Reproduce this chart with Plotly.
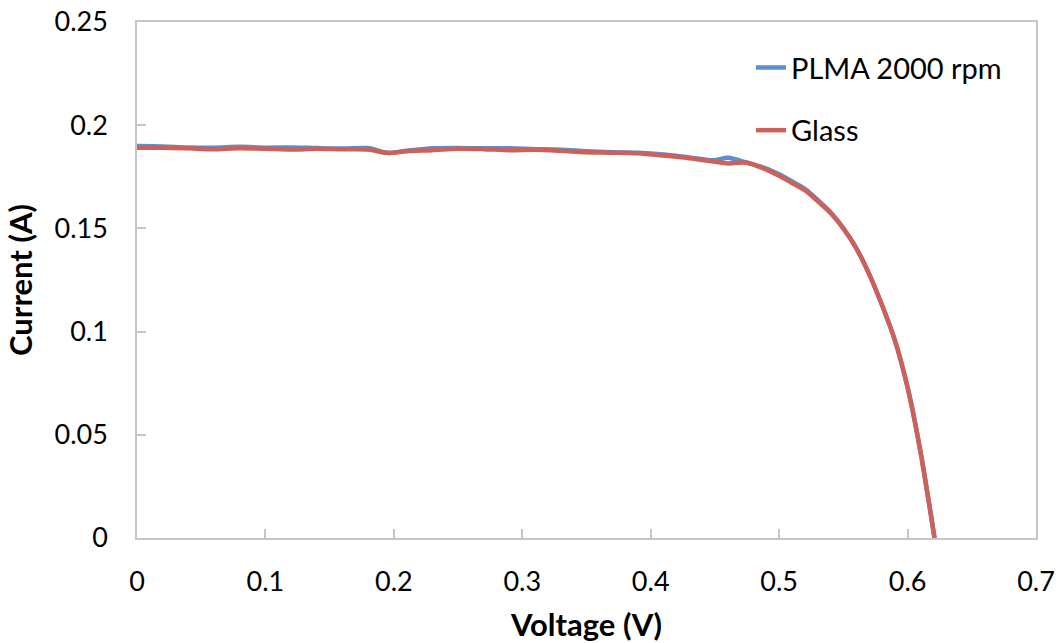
import plotly.graph_objects as go

voltage = [0.000, 0.020, 0.040, 0.060, 0.080, 0.100, 0.120, 0.140, 0.160, 0.180,
           0.195, 0.210, 0.230, 0.250, 0.270, 0.290, 0.310, 0.330, 0.350, 0.370,
           0.390, 0.410, 0.430, 0.450, 0.460, 0.475, 0.490, 0.500, 0.510, 0.520,
           0.530, 0.540, 0.550, 0.560, 0.570, 0.580, 0.590, 0.600, 0.610, 0.621]

current_plma = [0.1899, 0.1897, 0.1892, 0.1891, 0.1895, 0.1891, 0.1892, 0.1889, 0.1887, 0.1889,
                0.1866, 0.1876, 0.1888, 0.1890, 0.1888, 0.1888, 0.1884, 0.1881, 0.1874, 0.1869,
                0.1866, 0.1858, 0.1844, 0.1830, 0.1842, 0.1818, 0.1790, 0.1762, 0.1728, 0.1692,
                0.1638, 0.1578, 0.1500, 0.1405, 0.1280, 0.1130, 0.0960, 0.0730, 0.0420, 0.0000]

current_glass = [0.1891, 0.1891, 0.1888, 0.1884, 0.1888, 0.1886, 0.1882, 0.1886, 0.1883, 0.1882,
                 0.1866, 0.1874, 0.1879, 0.1886, 0.1884, 0.1879, 0.1881, 0.1876, 0.1869, 0.1867,
                 0.1864, 0.1853, 0.1840, 0.1823, 0.1815, 0.1818, 0.1785, 0.1755, 0.1720, 0.1685,
                 0.1632, 0.1575, 0.1500, 0.1405, 0.1280, 0.1130, 0.0960, 0.0730, 0.0420, 0.0000]

series_names = ["PLMA 2000 rpm", "Glass"]
x_ticks = [0, 0.1, 0.2, 0.3, 0.4, 0.5, 0.6, 0.7]
x_tick_labels = ["0", "0.1", "0.2", "0.3", "0.4", "0.5", "0.6", "0.7"]
y_ticks = [0, 0.05, 0.1, 0.15, 0.2, 0.25]
y_tick_labels = ["0", "0.05", "0.1", "0.15", "0.2", "0.25"]

FONT = "Lato, Carlito, Calibri, sans-serif"
AXIS_GRAY = "#C6C6C6"

fig = go.Figure()
fig.add_trace(go.Scatter(x=voltage, y=current_plma, mode="lines", name=series_names[0],
                         legendgroup="a",
                         line=dict(color="#5B8FCD", width=4.5, shape="spline", smoothing=0.8)))
fig.add_trace(go.Scatter(x=voltage, y=current_glass, mode="lines", name=series_names[1],
                         legendgroup="b",
                         line=dict(color="#CD605A", width=4.5, shape="spline", smoothing=0.8)))

axis_common = dict(showgrid=False, zeroline=False, showline=True, mirror=True,
                   linecolor=AXIS_GRAY, linewidth=1.5, ticks="inside", ticklen=9,
                   tickwidth=1.5, tickcolor=AXIS_GRAY, automargin=False,
                   tickfont=dict(family=FONT, size=27, color="#000000"))

fig.update_layout(
    width=1060, height=643,
    margin=dict(l=137, r=24, t=22, b=105),
    paper_bgcolor="white", plot_bgcolor="white",
    showlegend=True,
    legend=dict(x=0.683, y=0.961, xanchor="left", yanchor="top",
                font=dict(family=FONT, size=29, color="#000000"),
                tracegroupgap=22, bgcolor="rgba(0,0,0,0)"),
    xaxis=dict(range=[0, 0.7], tickvals=x_ticks, ticktext=x_tick_labels,
               ticklabelstandoff=19,
               title=dict(text="<b>Voltage (V)</b>", font=dict(family=FONT, size=31, color="#000000"),
                          standoff=18),
               **axis_common),
    yaxis=dict(range=[0, 0.25], tickvals=y_ticks, ticktext=y_tick_labels,
               ticklabelstandoff=22,
               title=dict(text="<b>Current (A)</b>", font=dict(family=FONT, size=31, color="#000000"),
                          standoff=13),
               **axis_common),
)

fig.write_html("out.html")
